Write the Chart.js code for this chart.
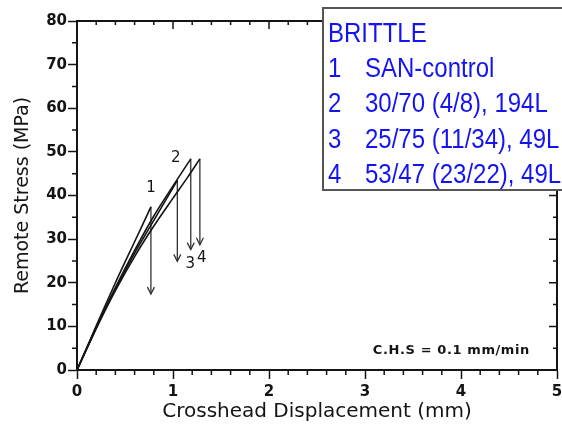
<!DOCTYPE html>
<html lang="en">
<head>
<meta charset="UTF-8">
<title>Remote Stress vs Crosshead Displacement</title>
<script src="https://cdn.jsdelivr.net/npm/chart.js"></script>
<style>
    body { margin: 0; background: #fff; }
    canvas { display: block; }
</style>
</head>
<body>
<canvas id="stressChart" width="562" height="434"></canvas>
<script>
// loading curves: crosshead displacement (mm) -> remote stress (MPa)
const curve1X = [0, 0.2, 0.4, 0.6, 0.77];
const curve1Y = [0, 10.1, 20.0, 29.4, 37.4];
const curve2X = [0, 0.2, 0.4, 0.6, 0.8, 1.0, 1.185];
const curve2Y = [0, 9.7, 18.9, 27.4, 35.3, 42.2, 48.4];
const curve3X = [0, 0.2, 0.4, 0.6, 0.8, 1.045];
const curve3Y = [0, 9.6, 18.6, 26.8, 34.3, 43.5];
const curve4X = [0, 0.2, 0.4, 0.6, 0.8, 1.0, 1.15, 1.28];
const curve4Y = [0, 9.5, 18.2, 26.0, 33.0, 39.4, 44.1, 48.4];

// fracture drops (vertical arrows)
const arrowX = [0.77, 1.045, 1.185, 1.28];
const arrowTop = [37.4, 43.5, 48.4, 48.4];
const arrowBottom = [17.4, 24.9, 27.6, 28.7];

// curve numbers
const tagText = ['1', '2', '3', '4'];
const tagX = [0.77, 1.03, 1.18, 1.30];
const tagY = [41.8, 48.5, 24.3, 25.7];

// axis ticks
const xMin = 0, xMax = 5, xStep = 1, xMinor = 0.2;
const yMin = 0, yMax = 80, yStep = 10, yMinor = 5;

// key box
const keyTitle = 'BRITTLE';
const keyNums = ['1', '2', '3', '4'];
const keyNames = ['SAN-control', '30/70 (4/8), 194L', '25/75 (11/34), 49L', '53/47 (23/22), 49L'];
const noteText = 'C.H.S = 0.1 mm/min';

const ink = '#141414';

function pts(xs, ys) {
    return xs.map((v, i) => ({ x: v, y: ys[i] }));
}

const curveSets = [[curve1X, curve1Y], [curve2X, curve2Y], [curve3X, curve3Y], [curve4X, curve4Y]].map(c => ({
    data: pts(c[0], c[1]),
    showLine: true,
    borderColor: ink,
    borderWidth: 1.6,
    pointRadius: 0,
    tension: 0.3
}));

const arrowSets = arrowX.map((v, i) => ({
    data: [{ x: v, y: arrowTop[i] }, { x: v, y: arrowBottom[i] }],
    showLine: true,
    borderColor: '#333',
    borderWidth: 1.3,
    pointRadius: 0
}));

const decor = {
    id: 'decor',
    afterDatasetsDraw(chart) {
        const { ctx, chartArea: a, scales: { x, y } } = chart;
        ctx.save();
        ctx.strokeStyle = ink;

        // top and right frame
        ctx.lineWidth = 2;
        ctx.beginPath();
        ctx.moveTo(a.left, a.top);
        ctx.lineTo(a.right, a.top);
        ctx.lineTo(a.right, a.bottom);
        ctx.stroke();

        // minor ticks and inner ticks
        ctx.lineWidth = 1.5;
        ctx.beginPath();
        const nx = Math.round((xMax - xMin) / xMinor);
        for (let i = 0; i <= nx; i++) {
            const v = xMin + i * xMinor;
            const px = x.getPixelForValue(v);
            const major = i % Math.round(xStep / xMinor) === 0;
            if (!major) {
                ctx.moveTo(px, a.bottom);
                ctx.lineTo(px, a.bottom + 5);
            }
            ctx.moveTo(px, a.top);
            ctx.lineTo(px, a.top + (major ? 8 : 4));
        }
        const ny = Math.round((yMax - yMin) / yMinor);
        for (let i = 0; i <= ny; i++) {
            const v = yMin + i * yMinor;
            const py = y.getPixelForValue(v);
            const major = i % Math.round(yStep / yMinor) === 0;
            if (!major) {
                ctx.moveTo(a.left, py);
                ctx.lineTo(a.left - 5, py);
            }
            ctx.moveTo(a.right, py);
            ctx.lineTo(a.right - (major ? 8 : 4), py);
        }
        ctx.stroke();

        // arrow heads
        ctx.strokeStyle = '#333';
        ctx.lineWidth = 1.3;
        arrowX.forEach((v, i) => {
            const px = x.getPixelForValue(v);
            const py = y.getPixelForValue(arrowBottom[i]);
            ctx.beginPath();
            ctx.moveTo(px - 3.5, py - 7);
            ctx.lineTo(px, py);
            ctx.lineTo(px + 3.5, py - 7);
            ctx.stroke();
        });

        // curve numbers
        ctx.fillStyle = ink;
        ctx.font = '15px "DejaVu Sans"';
        ctx.textAlign = 'center';
        ctx.textBaseline = 'middle';
        tagText.forEach((t, i) => {
            ctx.fillText(t, x.getPixelForValue(tagX[i]), y.getPixelForValue(tagY[i]));
        });

        // crosshead speed note
        ctx.font = 'bold 13px "DejaVu Sans"';
        ctx.letterSpacing = '0.6px';
        ctx.fillText(noteText, x.getPixelForValue(3.9), y.getPixelForValue(4.4));
        ctx.restore();
    },
    afterDraw(chart) {
        const { ctx } = chart;
        ctx.save();
        ctx.fillStyle = '#fff';
        ctx.fillRect(322, 8, 240, 182);
        ctx.strokeStyle = '#555';
        ctx.lineWidth = 2;
        ctx.strokeRect(323, 8, 245, 182);

        ctx.fillStyle = '#1414f0';
        ctx.font = '24px "Liberation Sans"';
        ctx.textAlign = 'left';
        ctx.textBaseline = 'alphabetic';
        const line = (t, px, py) => {
            ctx.save();
            ctx.translate(px, py);
            ctx.scale(1, 1.15);
            ctx.fillText(t, 0, 0);
            ctx.restore();
        };
        line(keyTitle, 328, 42);
        keyNums.forEach((n, i) => {
            const py = 77 + i * 35.3;
            line(n, 328, py);
            line(keyNames[i], 365, py);
        });
        ctx.restore();
    }
};

Chart.defaults.font.family = '"DejaVu Sans"';
Chart.defaults.color = ink;

new Chart(document.getElementById('stressChart'), {
    type: 'scatter',
    data: { datasets: [...curveSets, ...arrowSets] },
    options: {
        responsive: false,
        animation: false,
        layout: { padding: { top: 21, right: 5, left: 0, bottom: 0 } },
        plugins: { legend: { display: false }, tooltip: { enabled: false } },
        scales: {
            x: {
                type: 'linear',
                min: xMin,
                max: xMax,
                ticks: { stepSize: xStep, padding: 4, font: { size: 15, weight: 'bold' }, color: ink },
                grid: { drawOnChartArea: false, tickLength: 9, tickWidth: 1.5, tickColor: ink },
                border: { color: ink, width: 2 },
                title: { display: true, text: 'Crosshead Displacement (mm)', font: { size: 20 }, color: ink, padding: { bottom: 10 } },
                afterFit: s => { s.height = 64; s.paddingLeft = 0; s.paddingRight = 0; }
            },
            y: {
                type: 'linear',
                min: yMin,
                max: yMax,
                ticks: { stepSize: yStep, padding: 1, font: { size: 15, weight: 'bold' }, color: ink },
                grid: { drawOnChartArea: false, tickLength: 9, tickWidth: 1.5, tickColor: ink },
                border: { color: ink, width: 2 },
                title: { display: true, text: 'Remote Stress (MPa)', font: { size: 19 }, color: ink, padding: { top: 12 } },
                afterFit: s => { s.width = 77; }
            }
        }
    },
    plugins: [decor]
});
</script>
</body>
</html>
